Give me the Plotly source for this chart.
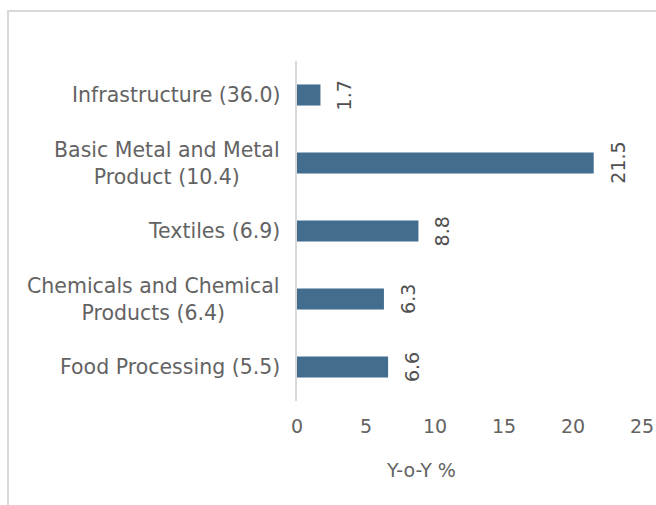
import plotly.graph_objects as go

categories = ["Infrastructure (36.0)", "Basic Metal and Metal<br>Product (10.4)", "Textiles (6.9)",
              "Chemicals and Chemical<br>Products (6.4)", "Food Processing (5.5)"]
values = [1.7, 21.5, 8.8, 6.3, 6.6]
value_labels = ["1.7", "21.5", "8.8", "6.3", "6.6"]
x_ticks = [0, 5, 10, 15, 20, 25]
x_title = "Y-o-Y %"

W, H = 656, 505
ML, MR, MT, MB = 297, 14, 61, 104
PW, PH = W - ML - MR, H - MT - MB

FONT = "DejaVu Sans"
BAR = "#436D8F"
TXT = "#636363"
FS = 19

fig = go.Figure()
fig.add_trace(go.Bar(
    y=categories, x=values, orientation="h",
    marker=dict(color=BAR, line=dict(width=0)),
    width=0.31, hoverinfo="skip",
))

ann = []
for c, v, t in zip(categories, values, value_labels):
    ann.append(dict(x=v, y=c, xref="x", yref="y", text=t, showarrow=False,
                    textangle=-90, xanchor="center", yanchor="middle", xshift=24,
                    font=dict(family=FONT, size=FS, color="#505050")))
    ann.append(dict(x=0, y=c, xref="paper", yref="y", text=c, showarrow=False,
                    xanchor="right", yanchor="middle", align="center", xshift=-15,
                    font=dict(family=FONT, size=20.5, color=TXT)))
ann.append(dict(x=(421 - ML) / PW, y=(H - MB - 470) / PH, xref="paper", yref="paper",
                text=x_title, showarrow=False, xanchor="center", yanchor="middle",
                font=dict(family=FONT, size=FS, color=TXT)))

shapes = [dict(type="rect", xref="paper", yref="paper",
               x0=(8 - ML) / PW, x1=(W + 10 - ML) / PW,
               y0=(H - MB - (H + 10)) / PH, y1=(H - MB - 11) / PH,
               line=dict(color="#D9D9D9", width=2), fillcolor="rgba(0,0,0,0)", layer="below")]

fig.update_layout(
    width=W, height=H, margin=dict(l=ML, r=MR, t=MT, b=MB, pad=0),
    paper_bgcolor="white", plot_bgcolor="white", showlegend=False,
    annotations=ann, shapes=shapes,
    xaxis=dict(range=[0, 25], tickvals=x_ticks, showgrid=False, zeroline=False,
               showline=False, ticks="", automargin=False,
               tickfont=dict(family=FONT, size=FS, color=TXT),
               ticklabelstandoff=12),
    yaxis=dict(categoryorder="array", categoryarray=categories[::-1], showticklabels=False,
               showgrid=False, zeroline=False, showline=True, linecolor="#D9D9D9", linewidth=2,
               ticks="", range=[-0.5, 4.5], automargin=False),
)

fig.write_html("out.html")
